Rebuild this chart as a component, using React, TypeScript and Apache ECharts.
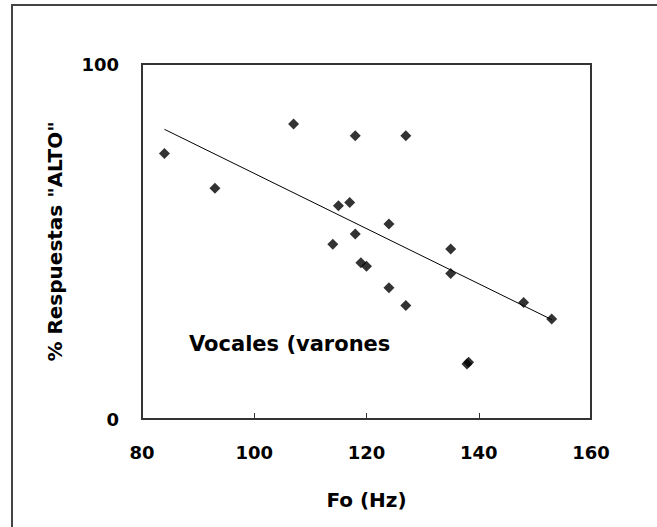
import React, { useEffect, useRef } from "react";
import * as echarts from "echarts";

const fo: number[] = [84, 93, 107, 114, 115, 117, 118, 118, 119, 120, 124, 124, 127, 127, 135, 135, 137.9, 138.2, 148, 153];
const altoPct: number[] = [74.8, 65.0, 83.1, 49.2, 60.1, 61.0, 79.8, 52.1, 44.0, 43.0, 54.9, 37.0, 79.8, 32.0, 47.9, 41.0, 15.5, 16.0, 32.8, 28.2];
const trendX: number[] = [84, 153];
const trendY: number[] = [81.6, 28.0];
const xTicks = { min: 80, max: 160, interval: 20 };
const yTicks = { min: 0, max: 100, interval: 100 };
const xTitle = "Fo (Hz)";
const yTitle = '% Respuestas "ALTO"';
const note = "Vocales (varones";

const FONT = "DejaVu Sans";

export default function App() {
  const ref = useRef<HTMLDivElement>(null);
  useEffect(() => {
    if (!ref.current) return;
    const chart = echarts.init(ref.current, null, { renderer: "svg" });
    chart.setOption({
      animation: false,
      backgroundColor: "#ffffff",
      grid: {
        left: 142,
        top: 64,
        right: 66,
        bottom: 108,
        show: true,
        borderColor: "#333333",
        borderWidth: 2,
        containLabel: false,
      },
      xAxis: {
        type: "value",
        min: xTicks.min,
        max: xTicks.max,
        interval: xTicks.interval,
        name: xTitle,
        nameLocation: "middle",
        nameGap: 71,
        nameTextStyle: { fontFamily: FONT, fontWeight: "bold", fontSize: 20, color: "#000" },
        axisLine: { show: true, onZero: false, lineStyle: { color: "#333333", width: 2 } },
        axisTick: { show: true, inside: true, length: 6, lineStyle: { color: "#333333", width: 1 } },
        axisLabel: { margin: 24, fontFamily: FONT, fontWeight: "bold", fontSize: 18, color: "#000" },
        splitLine: { show: false },
      },
      yAxis: {
        type: "value",
        min: yTicks.min,
        max: yTicks.max,
        interval: yTicks.interval,
        name: yTitle,
        nameLocation: "middle",
        nameGap: 77,
        nameRotate: 90,
        nameTextStyle: { fontFamily: FONT, fontWeight: "bold", fontSize: 20, color: "#000" },
        axisLine: { show: true, onZero: false, lineStyle: { color: "#333333", width: 2 } },
        axisTick: { show: false },
        axisLabel: { margin: 23, fontFamily: FONT, fontWeight: "bold", fontSize: 18, color: "#000" },
        splitLine: { show: false },
      },
      series: [
        {
          type: "line",
          data: trendX.map((x, i) => [x, trendY[i]]),
          showSymbol: false,
          symbol: "none",
          lineStyle: { color: "#000", width: 1 },
          silent: true,
          z: 1,
        },
        {
          type: "scatter",
          data: fo.map((x, i) => [x, altoPct[i]]),
          symbol: "diamond",
          symbolSize: [11, 11],
          itemStyle: { color: "#000" },
          z: 2,
        },
      ],
      graphic: [
        {
          type: "rect",
          shape: { x: 12, y: 5, width: 700, height: 600 },
          style: { fill: "none", stroke: "#444444", lineWidth: 2 },
          silent: true,
        },
        {
          type: "text",
          x: 189,
          y: 344,
          style: {
            text: note,
            font: `bold 21px "${FONT}"`,
            fill: "#000",
            textAlign: "left",
            textVerticalAlign: "middle",
          },
        },
      ],
    });
    return () => chart.dispose();
  }, []);
  return (
    <div
      ref={ref}
      style={{ position: "fixed", left: 0, top: 0, width: 657, height: 527, background: "#fff" }}
    />
  );
}
